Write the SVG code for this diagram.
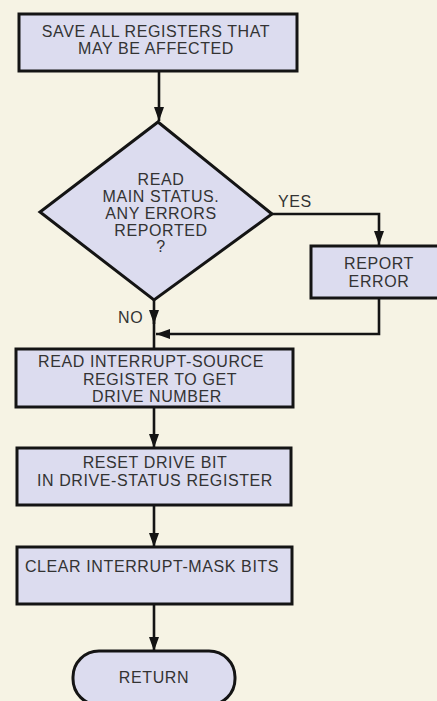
<svg xmlns="http://www.w3.org/2000/svg" width="437" height="701" viewBox="0 0 437 701">
<defs>
<style>
.bg{fill:#f6f3e4}
.node{fill:#dcdcef;stroke:#141414;stroke-width:3;stroke-linejoin:miter}
.t{font-family:"Liberation Sans",Arial,sans-serif;font-size:16px;letter-spacing:0.6px;fill:#333333;text-anchor:middle}
.l{font-family:"Liberation Sans",Arial,sans-serif;font-size:16px;letter-spacing:0.6px;fill:#333333}
.c{fill:none;stroke:#141414;stroke-width:2.6}
</style>
<marker id="ah" markerUnits="userSpaceOnUse" markerWidth="14" markerHeight="16" viewBox="0 0 14 16" refX="14" refY="6" orient="auto">
<path d="M0,1 L14,6 L0,11 Z" fill="#141414"/>
</marker>
</defs>
<rect class="bg" x="0" y="0" width="437" height="701"/>
<g id="connectors">
<path class="c" d="M159,71 L159,121" marker-end="url(#ah)"/>
<path class="c" d="M272,214 L379,214 L379,245" marker-end="url(#ah)"/>
<path class="c" d="M154,300 L154,324" marker-end="url(#ah)"/>
<path class="c" d="M154,318 L154,349"/>
<path class="c" d="M379,298 L379,334 L156,334" marker-end="url(#ah)"/>
<path class="c" d="M154,407 L154,448" marker-end="url(#ah)"/>
<path class="c" d="M154,505 L154,547" marker-end="url(#ah)"/>
<path class="c" d="M154,604 L154,651" marker-end="url(#ah)"/>
</g>
<g id="save">
<rect class="node" x="19" y="14" width="278" height="57"/>
<text class="t" x="156" y="37">SAVE ALL REGISTERS THAT</text>
<text class="t" x="156" y="54">MAY BE AFFECTED</text>
</g>
<g id="decision">
<polygon class="node" points="158,122 272,214 154,300 40,212"/>
<text class="t" x="161" y="185">READ</text>
<text class="t" x="161" y="202">MAIN STATUS.</text>
<text class="t" x="161" y="219">ANY ERRORS</text>
<text class="t" x="161" y="236">REPORTED</text>
<text class="t" x="161" y="252">?</text>
</g>
<g id="labels">
<text class="l" x="278" y="207">YES</text>
<text class="l" x="118" y="323">NO</text>
</g>
<g id="report">
<rect class="node" x="311" y="246" width="140" height="52"/>
<text class="t" x="379" y="269">REPORT</text>
<text class="t" x="379" y="287">ERROR</text>
</g>
<g id="read-source">
<rect class="node" x="16" y="349" width="277" height="58"/>
<text class="t" x="151" y="367">READ INTERRUPT-SOURCE</text>
<text class="t" x="160" y="385">REGISTER TO GET</text>
<text class="t" x="157" y="402">DRIVE NUMBER</text>
</g>
<g id="reset">
<rect class="node" x="17" y="448" width="274" height="57"/>
<text class="t" x="155" y="468">RESET DRIVE BIT</text>
<text class="t" x="155" y="486">IN DRIVE-STATUS REGISTER</text>
</g>
<g id="clear">
<rect class="node" x="17" y="547" width="275" height="57"/>
<text class="t" x="152" y="572">CLEAR INTERRUPT-MASK BITS</text>
</g>
<g id="return">
<rect class="node" x="73" y="651" width="162" height="54" rx="26" ry="26"/>
<text class="t" x="154" y="683">RETURN</text>
</g>
</svg>
